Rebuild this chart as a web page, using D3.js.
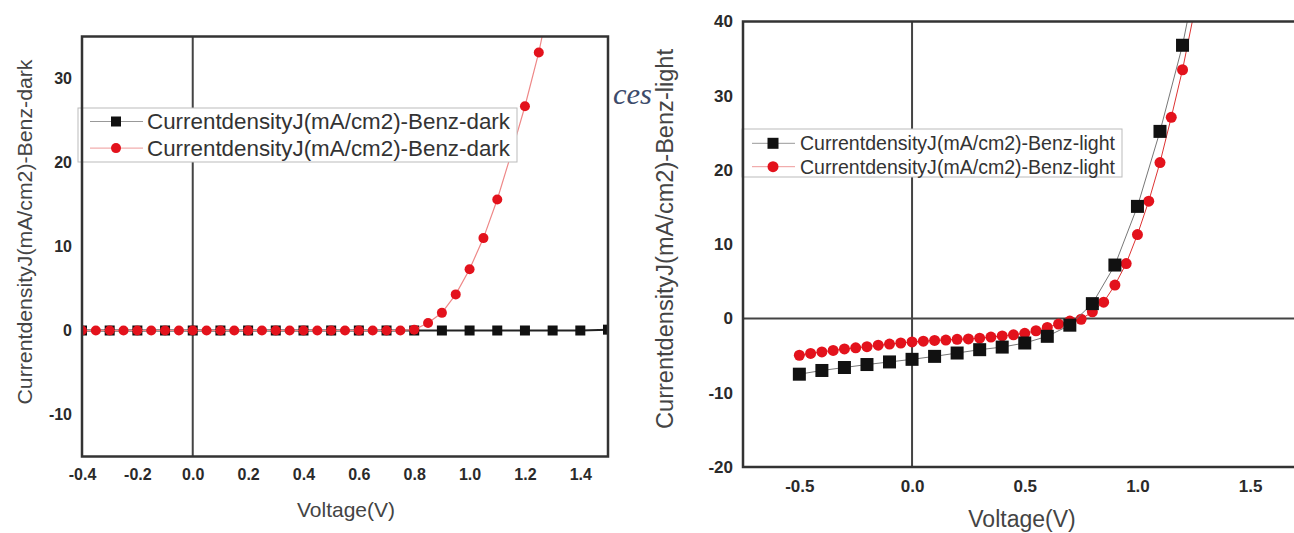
<!DOCTYPE html>
<html>
<head>
<meta charset="utf-8">
<script src="https://cdn.jsdelivr.net/npm/d3@7"></script>
<style>
  body { margin: 0; background: #fff; }
</style>
</head>
<body>
<svg id="chart" width="1294" height="533" font-family="Liberation Sans, Arial, sans-serif"></svg>
<script>
//=================================
//  Data
//=================================

//Left plot: dark
var darkSquareV = [-0.4, -0.3, -0.2, -0.1, 0.0, 0.1, 0.2, 0.3, 0.4, 0.5, 0.6, 0.7, 0.8, 0.9, 1.0, 1.1, 1.2, 1.3, 1.4, 1.5];
var darkSquareJ = [0, 0, 0, 0, 0, 0, 0, 0, 0, 0, 0, 0, 0, 0, 0, 0, 0, 0, 0, 0.1];

var darkCircleV = [-0.4, -0.35, -0.3, -0.25, -0.2, -0.15, -0.1, -0.05, 0.0, 0.05, 0.1, 0.15, 0.2, 0.25, 0.3, 0.35,
                   0.4, 0.45, 0.5, 0.55, 0.6, 0.65, 0.7, 0.75, 0.8, 0.85, 0.9, 0.95, 1.0, 1.05, 1.1, 1.15, 1.2, 1.25, 1.3];
var darkCircleJ = [0, 0, 0, 0, 0, 0, 0, 0, 0, 0, 0, 0, 0, 0, 0, 0,
                   0, 0, 0, 0, 0, 0, 0, 0, 0.1, 0.9, 2.1, 4.3, 7.3, 11.0, 15.6, 21.0, 26.7, 33.1, 41];

//Right plot: light
var lightSquareV = [-0.5, -0.4, -0.3, -0.2, -0.1, 0.0, 0.1, 0.2, 0.3, 0.4, 0.5, 0.6, 0.7, 0.8, 0.9, 1.0, 1.1, 1.2, 1.3];
var lightSquareJ = [-7.5, -7.0, -6.6, -6.2, -5.85, -5.5, -5.1, -4.65, -4.2, -3.85, -3.3, -2.4, -0.9, 2.0, 7.2, 15.1, 25.2, 36.8, 52];

var lightCircleV = [-0.5, -0.45, -0.4, -0.35, -0.3, -0.25, -0.2, -0.15, -0.1, -0.05, 0.0, 0.05, 0.1, 0.15, 0.2, 0.25, 0.3, 0.35,
                    0.4, 0.45, 0.5, 0.55, 0.6, 0.65, 0.7, 0.75, 0.8, 0.85, 0.9, 0.95, 1.0, 1.05, 1.1, 1.15, 1.2, 1.25];
var lightCircleJ = [-4.95, -4.7, -4.5, -4.3, -4.1, -3.95, -3.8, -3.6, -3.45, -3.3, -3.15, -3.05, -2.95, -2.9, -2.8, -2.75, -2.65, -2.5,
                    -2.35, -2.2, -2.0, -1.65, -1.2, -0.75, -0.35, -0.1, 0.9, 2.2, 4.5, 7.4, 11.3, 15.8, 21.0, 27.1, 33.5, 41];

//Tick labels
var darkXTicks = [-0.4, -0.2, 0.0, 0.2, 0.4, 0.6, 0.8, 1.0, 1.2, 1.4];
var darkYTicks = [-10, 0, 10, 20, 30];
var lightXTicks = [-0.5, 0.0, 0.5, 1.0, 1.5];
var lightYTicks = [-20, -10, 0, 10, 20, 30, 40];

var darkLabel = "CurrentdensityJ(mA/cm2)-Benz-dark";
var lightLabel = "CurrentdensityJ(mA/cm2)-Benz-light";
var xLabel = "Voltage(V)";

function pairs(vs, js) { return vs.map(function(v, i) { return [v, js[i]]; }); }
//plain hyphen instead of d3's unicode minus, like the original plot
function fmt(spec) {
  var f = d3.format(spec);
  return function(d) { return f(d).replace("\u2212", "-"); };
}

var svg = d3.select("#chart");
svg.append("rect").attr("width", 1294).attr("height", 533).attr("fill", "#fff");

//=================================
//  One panel
//=================================
function drawPanel(opt) {
  var x = d3.scaleLinear().domain(opt.xDomain).range(opt.xRange);
  var y = d3.scaleLinear().domain(opt.yDomain).range(opt.yRange);
  var x0 = opt.xRange[0], x1 = opt.xRange[1], yTop = opt.yRange[1], yBot = opt.yRange[0];
  var g = svg.append("g");

  g.append("clipPath").attr("id", opt.id + "-clip")
    .append("rect").attr("x", x0).attr("y", yTop).attr("width", x1 - x0).attr("height", yBot - yTop);

  //zero lines
  g.append("line").attr("x1", x(0)).attr("x2", x(0)).attr("y1", yTop).attr("y2", yBot)
    .attr("stroke", "#444").attr("stroke-width", 2);
  if (opt.zeroH) {
    g.append("line").attr("x1", x0).attr("x2", x1).attr("y1", y(0)).attr("y2", y(0))
      .attr("stroke", "#444").attr("stroke-width", 2);
  }

  var plot = g.append("g").attr("clip-path", "url(#" + opt.id + "-clip)");
  var line = d3.line().x(function(d) { return x(d[0]); }).y(function(d) { return y(d[1]); });

  opt.series.forEach(function(s) {
    plot.append("path").datum(s.data).attr("d", line)
      .attr("fill", "none").attr("stroke", s.lineColor).attr("stroke-width", s.lineWidth);
    if (s.shape == "square") {
      plot.selectAll(null).data(s.data).enter().append("rect")
        .attr("x", function(d) { return x(d[0]) - s.size / 2; })
        .attr("y", function(d) { return y(d[1]) - s.size / 2; })
        .attr("width", s.size).attr("height", s.size).attr("fill", "#111");
    } else {
      plot.selectAll(null).data(s.data).enter().append("circle")
        .attr("cx", function(d) { return x(d[0]); })
        .attr("cy", function(d) { return y(d[1]); })
        .attr("r", s.size / 2).attr("fill", "#e3121c");
    }
  });

  //legend box (opaque, sits over the data)
  var L = opt.legend;
  g.append("rect").attr("x", L.x).attr("y", L.y).attr("width", L.w).attr("height", L.h)
    .attr("fill", "#fff").attr("stroke", "#bbb").attr("stroke-width", 1);
  opt.legendOrder.forEach(function(s, i) {
    var ry = L.y + L.row0 + i * L.gap;
    g.append("line").attr("x1", L.lx0).attr("x2", L.lx1).attr("y1", ry).attr("y2", ry)
      .attr("stroke", s.legendLine).attr("stroke-width", 1);
    if (s.shape == "square") {
      g.append("rect").attr("x", L.mx - L.msize / 2).attr("y", ry - L.msize / 2)
        .attr("width", L.msize).attr("height", L.msize).attr("fill", "#111");
    } else {
      g.append("circle").attr("cx", L.mx).attr("cy", ry).attr("r", L.msize / 2).attr("fill", "#e3121c");
    }
    g.append("text").attr("x", L.tx).attr("y", ry).attr("dy", "0.36em")
      .attr("font-size", L.font).attr("fill", "#333")
      .attr("textLength", L.tlen).attr("lengthAdjust", "spacingAndGlyphs")
      .text(opt.label);
  });

  //frame
  g.append("rect").attr("x", x0).attr("y", yTop).attr("width", x1 - x0).attr("height", yBot - yTop)
    .attr("fill", "none").attr("stroke", "#333").attr("stroke-width", 2.5);

  //axes: labels only, no tick marks
  var ax = g.append("g").attr("transform", "translate(0," + yBot + ")")
    .call(d3.axisBottom(x).tickValues(opt.xTicks).tickFormat(fmt(".1f")).tickSize(0).tickPadding(opt.tickPadX));
  var ay = g.append("g").attr("transform", "translate(" + x0 + ",0)")
    .call(d3.axisLeft(y).tickValues(opt.yTicks).tickFormat(fmt("d")).tickSize(0).tickPadding(10));
  [ax, ay].forEach(function(a) {
    a.attr("font-family", null).attr("font-size", null);
    a.select(".domain").remove();
    a.selectAll("text").attr("font-size", opt.tickFont).attr("font-weight", "bold").attr("fill", "#2a2a2a");
  });

  //axis titles
  g.append("text").attr("x", opt.xTitle[0]).attr("y", opt.xTitle[1]).attr("text-anchor", "middle")
    .attr("font-size", opt.titleFont).attr("fill", "#444").text(xLabel);
  g.append("text").attr("transform", "translate(" + opt.yTitle[0] + "," + opt.yTitle[1] + ") rotate(-90)")
    .attr("text-anchor", "middle").attr("dy", "0.36em")
    .attr("font-size", opt.titleFont).attr("fill", "#444")
    .attr("textLength", opt.yTitleLen).attr("lengthAdjust", "spacingAndGlyphs")
    .text(opt.label);
}

var darkSeries = [
  { data: pairs(darkSquareV, darkSquareJ), shape: "square", size: 10, lineColor: "#222", lineWidth: 2, legendLine: "#999" },
  { data: pairs(darkCircleV, darkCircleJ), shape: "circle", size: 10, lineColor: "#e88", lineWidth: 1.2, legendLine: "#e99" }
];
drawPanel({
  id: "dark",
  xDomain: [-0.4, 1.5], xRange: [82, 608],
  yDomain: [-15, 35], yRange: [456.5, 36.5],
  zeroH: false,
  xTicks: darkXTicks, yTicks: darkYTicks, tickFont: 16, tickPadX: 12,
  label: darkLabel, titleFont: 21,
  xTitle: [346, 517], yTitle: [24, 232], yTitleLen: 345,
  series: darkSeries, legendOrder: darkSeries,
  legend: { x: 78, y: 108, w: 439, h: 54, row0: 13.5, gap: 26.6, lx0: 90, lx1: 143, mx: 116, msize: 10,
            tx: 147, font: 22, tlen: 363 }
});

var lightSeries = [
  { data: pairs(lightSquareV, lightSquareJ), shape: "square", size: 13, lineColor: "#777", lineWidth: 1, legendLine: "#999" },
  { data: pairs(lightCircleV, lightCircleJ), shape: "circle", size: 11, lineColor: "#d33", lineWidth: 1, legendLine: "#e99" }
];
drawPanel({
  id: "light",
  xDomain: [-0.75, 1.75], xRange: [743, 1306.5],
  yDomain: [-20, 40], yRange: [467, 21.5],
  zeroH: true,
  xTicks: lightXTicks, yTicks: lightYTicks, tickFont: 17, tickPadX: 13,
  label: lightLabel, titleFont: 23,
  xTitle: [1022, 527], yTitle: [665, 239], yTitleLen: 380,
  series: [lightSeries[1], lightSeries[0]], legendOrder: lightSeries,
  legend: { x: 742, y: 129, w: 380, h: 48, row0: 14.3, gap: 23.4, lx0: 752, lx1: 795, mx: 773, msize: 11,
            tx: 800, font: 19.5, tlen: 315 }
});

//stray text from the page behind the figure
svg.append("text").attr("x", 613).attr("y", 104)
  .style("font-family", "'Liberation Serif', 'DejaVu Serif', serif").style("font-style", "italic")
  .attr("font-size", 30).attr("fill", "#3d4b6b")
  .attr("textLength", 39).attr("lengthAdjust", "spacingAndGlyphs").text("ces");
</script>
</body>
</html>
